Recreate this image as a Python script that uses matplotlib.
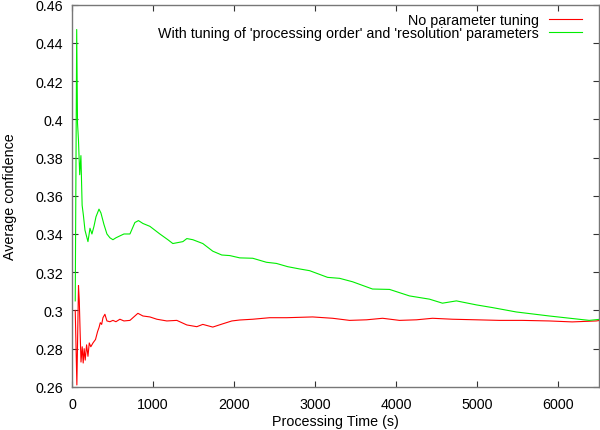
import matplotlib
matplotlib.use("Agg")
import matplotlib.pyplot as plt
from matplotlib.ticker import FuncFormatter

plt.rcParams['font.family'] = ['Liberation Sans', 'DejaVu Sans']

# Data
green_t = [40, 58, 68, 80, 95, 110, 125, 140, 160, 197, 222, 246, 271, 296, 333, 357,
           394, 431, 468, 505, 542, 591, 641, 715, 776, 820, 875, 961, 1084, 1183,
           1244, 1368, 1417, 1491, 1614, 1737, 1848, 1947, 2070, 2230, 2399, 2522,
           2661, 2809, 2932, 3154, 3302, 3462, 3708, 3918, 4164, 4411, 4571, 4743,
           4990, 5187, 5482, 5889, 6382, 6500]
green_v = [0.305, 0.447, 0.398, 0.389, 0.371, 0.381, 0.355, 0.350, 0.342, 0.336,
           0.343, 0.340, 0.344, 0.349, 0.353, 0.351, 0.345, 0.340, 0.338, 0.337,
           0.338, 0.339, 0.340, 0.340, 0.346, 0.347, 0.3455, 0.344, 0.340, 0.337,
           0.335, 0.336, 0.3376, 0.337, 0.335, 0.331, 0.329, 0.3287, 0.3275, 0.3273,
           0.3252, 0.3246, 0.3229, 0.3217, 0.3208, 0.3173, 0.3168, 0.3150, 0.3112,
           0.3110, 0.3076, 0.3059, 0.3038, 0.3050, 0.3029, 0.3015, 0.2992, 0.2971,
           0.2948, 0.2953]

red_t = [40, 60, 80, 90, 100, 111, 126, 138, 150, 163, 180, 197, 213, 232, 259, 290,
         316, 333, 349, 366, 382, 406, 431, 468, 505, 542, 591, 641, 715, 813, 875,
         961, 1047, 1170, 1293, 1417, 1540, 1614, 1737, 1860, 1972, 2070, 2230, 2439,
         2649, 2969, 3216, 3425, 3634, 3832, 4041, 4250, 4448, 4694, 4990, 5273,
         5556, 5889, 6172, 6468, 6500]
red_v = [0.300, 0.261, 0.313, 0.305, 0.289, 0.273, 0.281, 0.2725, 0.280, 0.274,
         0.282, 0.276, 0.283, 0.281, 0.283, 0.2848, 0.289, 0.291, 0.2936, 0.2927,
         0.2962, 0.298, 0.2945, 0.2941, 0.2948, 0.2941, 0.2954, 0.2945, 0.2948,
         0.2985, 0.2971, 0.2966, 0.2954, 0.2945, 0.2948, 0.2924, 0.2915, 0.2927,
         0.2913, 0.2930, 0.2945, 0.2950, 0.2954, 0.2962, 0.2962, 0.2966, 0.2959,
         0.2948, 0.2951, 0.2959, 0.2948, 0.2951, 0.2959, 0.2954, 0.2951, 0.2948,
         0.2948, 0.2945, 0.2940, 0.2945, 0.2947]

x_ticks = [0, 1000, 2000, 3000, 4000, 5000, 6000]
y_ticks = [0.26, 0.28, 0.30, 0.32, 0.34, 0.36, 0.38, 0.40, 0.42, 0.44, 0.46]

FS = 10.3

fig = plt.figure(figsize=(6.0, 4.31), dpi=100)
ax = fig.add_axes([0.12, 0.1, 0.878, 0.887])

ax.plot(red_t, red_v, color='#ff0000', lw=0.8, label='No parameter tuning')
ax.plot(green_t, green_v, color='#00ee00', lw=0.8,
        label="With tuning of 'processing order' and 'resolution' parameters")

ax.set_xlim(0, 6500)
ax.set_ylim(0.26, 0.46)
ax.set_xticks(x_ticks)
ax.set_yticks(y_ticks)
ax.yaxis.set_major_formatter(FuncFormatter(lambda v, p: ('%g' % round(v, 2))))

for s in ax.spines.values():
    s.set_color('#777777')
    s.set_linewidth(1.0)
ax.tick_params(direction='in', length=4, width=0.8, color='#333333',
               top=True, right=True, labelsize=FS, labelcolor='#000000')
ax.tick_params(axis='x', pad=7)
ax.tick_params(axis='y', pad=6.5)

ax.set_xlabel('Processing Time (s)', fontsize=FS)
ax.set_ylabel('Average confidence', fontsize=FS)
ax.xaxis.set_label_coords(0.5, -0.07)
ax.yaxis.set_label_coords(-0.104, 0.5)

leg = ax.legend(loc='upper right', bbox_to_anchor=(0.985, 1.0), frameon=False,
                markerfirst=False, fontsize=FS, handlelength=2.35, handletextpad=0.7,
                labelspacing=-0.1, borderaxespad=0.2)

fig.savefig('out.png', dpi=100)
